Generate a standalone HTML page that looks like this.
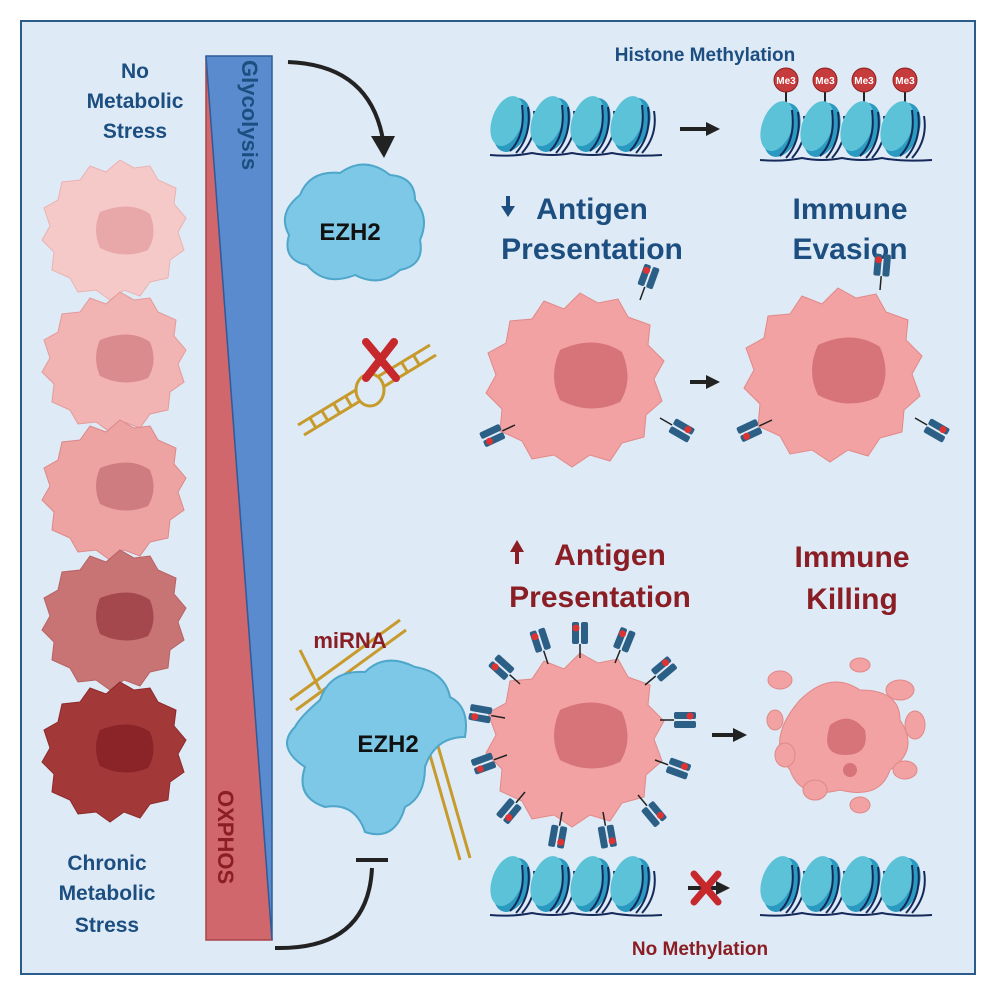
<!DOCTYPE html>
<html><head><meta charset="utf-8"><style>
html,body{margin:0;padding:0;background:#fff;}
svg{display:block;}
text{font-family:"Liberation Sans",Arial,sans-serif;font-weight:bold;}
</style></head><body>
<svg width="996" height="996" viewBox="0 0 996 996" xmlns="http://www.w3.org/2000/svg">
<defs>
<g id="nuc">
 <ellipse cx="0" cy="0" rx="17" ry="28" transform="rotate(20)" fill="#2a9ac0"/>
 <ellipse cx="-6" cy="-2" rx="15" ry="26" transform="rotate(20)" fill="#5cc2d8"/>
 <path d="M-2,26 Q14,10 10,-20 M4,28 Q20,10 16,-18 M10,28 Q26,10 22,-14" stroke="#152a5a" stroke-width="2" fill="none"/>
</g>
<g id="nucrow">
 <use href="#nuc" x="0"/><use href="#nuc" x="40"/><use href="#nuc" x="80"/><use href="#nuc" x="120"/>
 <path d="M-22,30 Q0,32 20,28 Q40,32 60,28 Q80,32 100,28 Q120,32 150,30" stroke="#152a5a" stroke-width="2" fill="none"/>
</g>
<g id="rec">
 <line x1="0" y1="0" x2="0" y2="-14" stroke="#222" stroke-width="1.5"/>
 <rect x="-8" y="-36" width="7" height="22" rx="2" fill="#2c5f86"/>
 <rect x="1" y="-36" width="7" height="22" rx="2" fill="#2c5f86"/>
 <circle cx="-4" cy="-30" r="3.5" fill="#d33"/>
</g>
</defs>
<rect width="996" height="996" fill="#fff"/>
<rect x="21" y="21" width="954" height="953" fill="#deeaf6" stroke="#2b5b8b" stroke-width="2"/>

<!-- left text -->
<g fill="#1d4e80" font-size="21" text-anchor="middle">
<text x="135" y="78">No</text><text x="135" y="108">Metabolic</text><text x="135" y="138">Stress</text>
<text x="107" y="870">Chronic</text><text x="107" y="900">Metabolic</text><text x="107" y="932">Stress</text>
</g>

<!-- cells left -->
<g>
<path d="M120,160 l14,8 16,-2 8,14 18,8 -2,16 12,14 -8,14 6,18 -14,10 -2,18 -18,4 -10,14 -16,-6 -14,10 -14,-10 -18,2 -8,-14 -18,-8 2,-18 -12,-12 8,-14 -6,-18 14,-8 4,-18 18,-2 10,-14 16,6z" fill="#f6c9c9" stroke="#e9b2b2"/>
<path d="M100,212 q30,-12 50,2 q8,20 -2,36 q-24,10 -48,-2 q-8,-18 0,-36z" fill="#e8a8aa"/>
<path d="M120,292 l14,8 16,-2 8,14 18,8 -2,16 12,14 -8,14 6,18 -14,10 -2,18 -18,4 -10,14 -16,-6 -14,10 -14,-10 -18,2 -8,-14 -18,-8 2,-18 -12,-12 8,-14 -6,-18 14,-8 4,-18 18,-2 10,-14 16,6z" fill="#f2b3b3" stroke="#e29b9b"/>
<path d="M100,340 q30,-12 50,2 q8,20 -2,36 q-24,10 -48,-2 q-8,-18 0,-36z" fill="#d98b8e"/>
<path d="M120,420 l14,8 16,-2 8,14 18,8 -2,16 12,14 -8,14 6,18 -14,10 -2,18 -18,4 -10,14 -16,-6 -14,10 -14,-10 -18,2 -8,-14 -18,-8 2,-18 -12,-12 8,-14 -6,-18 14,-8 4,-18 18,-2 10,-14 16,6z" fill="#eea3a3" stroke="#dc8888"/>
<path d="M100,468 q30,-12 50,2 q8,20 -2,36 q-24,10 -48,-2 q-8,-18 0,-36z" fill="#cf7c80"/>
<path d="M120,550 l14,8 16,-2 8,14 18,8 -2,16 12,14 -8,14 6,18 -14,10 -2,18 -18,4 -10,14 -16,-6 -14,10 -14,-10 -18,2 -8,-14 -18,-8 2,-18 -12,-12 8,-14 -6,-18 14,-8 4,-18 18,-2 10,-14 16,6z" fill="#c87474" stroke="#b86262"/>
<path d="M100,598 q30,-12 50,2 q8,20 -2,36 q-24,10 -48,-2 q-8,-18 0,-36z" fill="#a5484e"/>
<path d="M120,682 l14,8 16,-2 8,14 18,8 -2,16 12,14 -8,14 6,18 -14,10 -2,18 -18,4 -10,14 -16,-6 -14,10 -14,-10 -18,2 -8,-14 -18,-8 2,-18 -12,-12 8,-14 -6,-18 14,-8 4,-18 18,-2 10,-14 16,6z" fill="#a33838" stroke="#8e2a2a"/>
<path d="M100,730 q30,-12 50,2 q8,20 -2,36 q-24,10 -48,-2 q-8,-18 0,-36z" fill="#8a2428"/>
</g>

<!-- triangles -->
<polygon points="206,56 206,940 272,940" fill="#d0676c" stroke="#a84448" stroke-width="1.5"/>
<polygon points="206,56 272,56 272,940" fill="#5a8bcf" stroke="#2f5c9a" stroke-width="1.5"/>
<text transform="translate(242,60) rotate(90)" font-size="22" fill="#1d4e80">Glycolysis</text>
<text transform="translate(218,790) rotate(90)" font-size="22" fill="#8a1e24">OXPHOS</text>

<!-- arrows left -->
<path d="M288,62 Q370,65 383,140" stroke="#222" stroke-width="4" fill="none"/>
<polygon points="371,136 395,136 384,158" fill="#222"/>
<path d="M275,948 Q368,950 372,868" stroke="#222" stroke-width="4" fill="none"/>
<line x1="356" y1="860" x2="388" y2="860" stroke="#222" stroke-width="4"/>

<!-- EZH2 top -->
<path d="M300,195 q10,-25 40,-22 q25,-18 50,2 q25,2 25,25 q15,18 5,40 q5,25 -20,30 q-20,18 -45,5 q-30,12 -48,-10 q-25,-5 -18,-30 q-12,-22 11,-40z" fill="#7cc8e6" stroke="#4ea6cb" stroke-width="2"/>
<text x="350" y="240" font-size="24" fill="#111" text-anchor="middle">EZH2</text>

<!-- miRNA top with X -->
<g stroke="#c79a2c" stroke-width="3" fill="none">
<path d="M298,425 L430,345 M304,435 L436,355"/>
<path d="M310,418 l6,10 M322,411 l6,10 M334,404 l6,10 M346,397 l6,10 M390,370 l6,10 M402,363 l6,10 M414,356 l6,10"/>
<ellipse cx="370" cy="390" rx="14" ry="16" fill="#deeaf6"/>
</g>
<path d="M366,342 L396,378 M394,342 L366,378" stroke="#c6282c" stroke-width="8" stroke-linecap="round"/>

<!-- histone top -->
<text x="705" y="61" font-size="19" fill="#1d4e80" text-anchor="middle">Histone Methylation</text>
<use href="#nucrow" x="512" y="125"/>
<g stroke="#222" stroke-width="2"><line x1="786" y1="90" x2="786" y2="115"/><line x1="825" y1="90" x2="825" y2="115"/><line x1="864" y1="90" x2="864" y2="115"/><line x1="905" y1="90" x2="905" y2="115"/></g>
<use href="#nucrow" x="782" y="130"/>
<g fill="#c63b3b" stroke="#8e2020"><circle cx="786" cy="80" r="12"/><circle cx="825" cy="80" r="12"/><circle cx="864" cy="80" r="12"/><circle cx="905" cy="80" r="12"/></g>
<g fill="#fff" font-size="10" font-weight="normal" text-anchor="middle" style="font-weight:normal"><text x="786" y="84">Me3</text><text x="825" y="84">Me3</text><text x="864" y="84">Me3</text><text x="905" y="84">Me3</text></g>
<path d="M680,129 H708" stroke="#222" stroke-width="4"/><polygon points="706,122 720,129 706,136" fill="#222"/>

<!-- titles -->
<g font-size="30" fill="#1d4e80" text-anchor="middle">
<text x="592" y="219">Antigen</text><text x="592" y="259">Presentation</text>
<text x="850" y="219">Immune</text><text x="850" y="259">Evasion</text>
</g>
<path d="M508,196 v12" stroke="#1d4e80" stroke-width="4"/><polygon points="501,206 515,206 508,217" fill="#1d4e80"/>
<g font-size="30" fill="#8a1e24" text-anchor="middle">
<text x="610" y="565">Antigen</text><text x="600" y="607">Presentation</text>
<text x="852" y="567">Immune</text><text x="852" y="609">Killing</text>
</g>
<path d="M517,564 v-14" stroke="#8a1e24" stroke-width="4"/><polygon points="510,552 524,552 517,540" fill="#8a1e24"/>

<!-- cells right top -->
<g id="bigcell">
<path d="M580,293 l18,10 20,-4 10,18 22,8 -2,20 16,16 -10,18 8,22 -16,14 -2,22 -22,6 -12,18 -20,-6 -18,12 -18,-12 -22,4 -10,-18 -22,-10 2,-22 -16,-16 10,-18 -8,-22 18,-10 4,-22 22,-2 12,-18 20,8z" fill="#f2a2a2" stroke="#e28888"/>
<path d="M560,350 q35,-16 62,2 q12,28 -2,50 q-30,14 -60,-2 q-12,-24 0,-50z" fill="#d77479"/>
</g>
<use href="#rec" transform="translate(640,300) rotate(20)"/>
<use href="#rec" transform="translate(515,425) rotate(-115)"/>
<use href="#rec" transform="translate(660,418) rotate(120)"/>
<use href="#bigcell" x="258" y="-5"/>
<use href="#rec" transform="translate(880,290) rotate(5)"/>
<use href="#rec" transform="translate(772,420) rotate(-115)"/>
<use href="#rec" transform="translate(915,418) rotate(120)"/>
<path d="M690,382 H708" stroke="#222" stroke-width="4"/><polygon points="706,375 720,382 706,389" fill="#222"/>

<!-- bottom cell with receptors -->
<use href="#bigcell" x="0" y="360"/>
<g>
<use href="#rec" transform="translate(580,658) rotate(0)"/>
<use href="#rec" transform="translate(548,664) rotate(-18)"/>
<use href="#rec" transform="translate(615,663) rotate(22)"/>
<use href="#rec" transform="translate(645,685) rotate(50)"/>
<use href="#rec" transform="translate(520,684) rotate(-48)"/>
<use href="#rec" transform="translate(660,720) rotate(90)"/>
<use href="#rec" transform="translate(505,718) rotate(-80)"/>
<use href="#rec" transform="translate(507,755) rotate(-110)"/>
<use href="#rec" transform="translate(655,760) rotate(110)"/>
<use href="#rec" transform="translate(525,792) rotate(-140)"/>
<use href="#rec" transform="translate(638,795) rotate(140)"/>
<use href="#rec" transform="translate(562,812) rotate(-170)"/>
<use href="#rec" transform="translate(603,812) rotate(170)"/>
</g>
<path d="M712,735 H735" stroke="#222" stroke-width="4"/><polygon points="733,728 747,735 733,742" fill="#222"/>

<!-- fragmented cell -->
<g fill="#f2a2a2" stroke="#e08888">
<path d="M800,700 q30,-30 60,-10 q40,0 40,30 q20,30 -10,50 q-10,30 -50,20 q-40,10 -50,-20 q-25,-30 10,-70z"/>
<ellipse cx="780" cy="680" rx="12" ry="9"/><ellipse cx="860" cy="665" rx="10" ry="7"/>
<ellipse cx="900" cy="690" rx="14" ry="10"/><ellipse cx="915" cy="725" rx="10" ry="14"/>
<ellipse cx="905" cy="770" rx="12" ry="9"/><ellipse cx="860" cy="805" rx="10" ry="8"/>
<ellipse cx="815" cy="790" rx="12" ry="10"/><ellipse cx="785" cy="755" rx="10" ry="12"/>
<ellipse cx="775" cy="720" rx="8" ry="10"/>
</g>
<path d="M830,725 q20,-15 35,5 q5,25 -20,25 q-25,0 -15,-30z" fill="#d77479"/>
<circle cx="850" cy="770" r="7" fill="#d77479"/>

<!-- bottom EZH2 + miRNA -->
<g stroke="#c79a2c" stroke-width="3" fill="none">
<path d="M290,700 L400,620 M296,710 L406,630"/>
<path d="M420,720 L460,860 M430,718 L470,858"/>
<path d="M300,650 L320,690"/>
</g>
<path d="M320,700 q10,-30 45,-28 q20,-20 50,-5 q30,5 35,30 q20,10 15,40 q-30,0 -40,30 q0,30 -20,40 q-10,35 -40,25 q-10,-30 -40,-25 q-30,-10 -20,-40 q-30,-20 -10,-40 q5,-10 25,-27z" fill="#7cc8e6" stroke="#4ea6cb" stroke-width="2"/>
<text x="388" y="752" font-size="24" fill="#111" text-anchor="middle">EZH2</text>
<text x="350" y="648" font-size="22" fill="#8a1e24" text-anchor="middle">miRNA</text>

<!-- bottom histones -->
<use href="#nucrow" x="512" y="885"/>
<use href="#nucrow" x="782" y="885"/>
<path d="M688,888 H718" stroke="#222" stroke-width="4"/><polygon points="716,881 730,888 716,895" fill="#222"/>
<path d="M694,874 L718,902 M718,874 L694,902" stroke="#c6282c" stroke-width="7" stroke-linecap="round"/>
<text x="700" y="955" font-size="19" fill="#8a1e24" text-anchor="middle">No Methylation</text>
</svg>
</body></html>
